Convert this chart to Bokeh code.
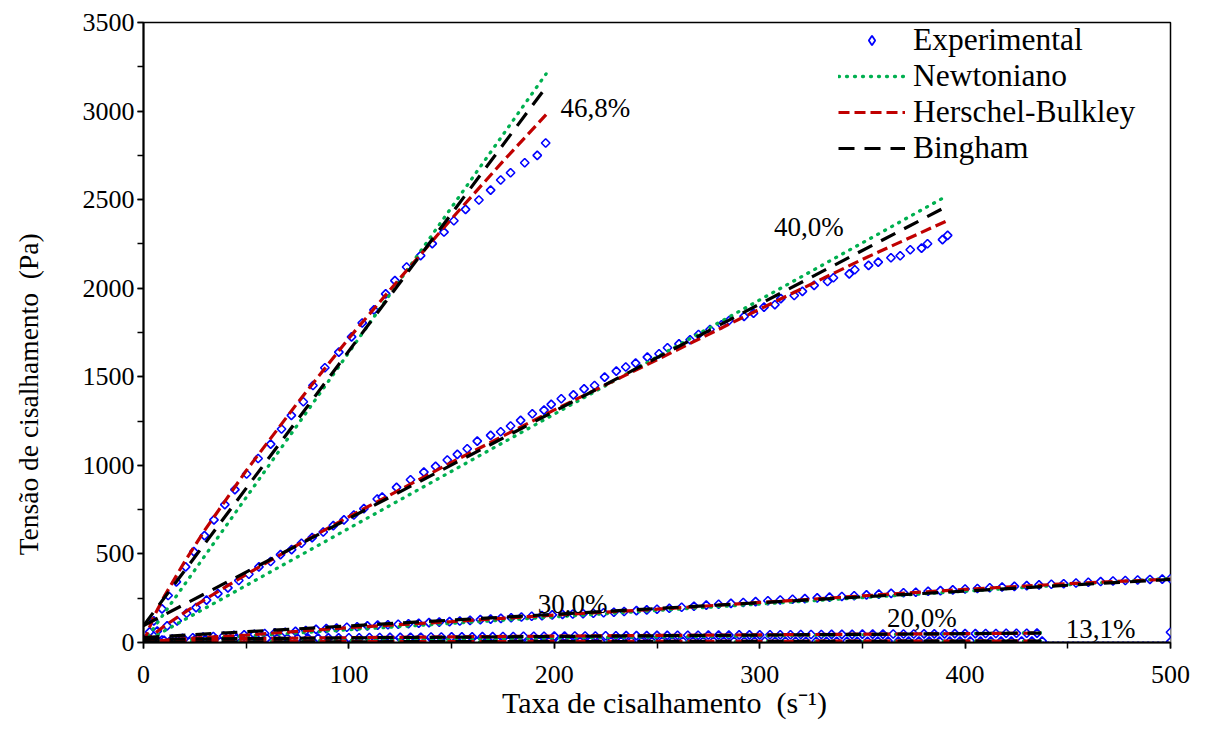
import math
from bokeh.plotting import figure
from bokeh.models import Range1d, Label, Legend, LegendItem, SingleIntervalTicker
from bokeh.embed import file_html
from bokeh.resources import INLINE

FONT = "Liberation Serif"

# ---------------- data ----------------
# 46,8 %
x46 = [0, 1, 3, 5, 9, 12, 16, 20.5, 24.5, 29.7, 34.3, 39.6, 44.5, 50.2, 55.8, 61.9, 67.2, 72, 77.8, 82.5,
       88.3, 95.1, 101.3, 106.5, 112.2, 117.9, 122.4, 128.1, 134.9, 140.6, 146.3, 151.1, 156.8, 163.3, 169,
       173.9, 178.7, 185.6, 191.7, 195.8]
y46 = [0, 20, 60, 122, 190, 265, 342, 427, 513, 603, 692, 778, 863, 951, 1039, 1120, 1205, 1282, 1359, 1451,
       1551, 1639, 1725, 1804, 1878, 1968, 2043, 2120, 2184, 2252, 2317, 2381, 2445, 2498, 2554,
       2611, 2652, 2708, 2750, 2820]
newt46_x = [0, 196]
newt46_y = [0, 3210]
bing46_x = [0, 196]
bing46_y = [95, 3135]
hb46_x = [0, 5, 10, 20, 30, 50, 75, 100, 125, 150, 175, 196]
hb46_y = [0, 146, 258, 456, 637, 970, 1353, 1718, 2058, 2392, 2716, 2980]

# 40,0 %
x40 = [0, 2, 6.7, 11.5, 16.4, 21, 25.6, 30.7, 36.2, 41.1, 46.4, 51.3, 56.2, 61.9, 66.7, 72.1, 76.9, 82.1,
       87.5, 92.4, 97.6, 102.4, 107.3, 113.8, 116.2, 123.2, 130, 136.5, 142.2, 147.9, 152.8, 157.6, 162.5,
       169, 173.9, 178.7, 183.6, 189.3, 195, 198.5, 203.4, 209.3, 214.5, 219.6, 224.5, 230.2, 234.8, 239.6,
       245.3, 251, 255.1, 260.7, 266.1, 270.2, 275.8, 281.4, 285.1, 292.4, 297, 302.1, 307.4, 310.3, 316.8,
       320.8, 326.5, 333, 335.9, 343.6, 346.3, 353, 357.7, 363.9, 368.4, 373.3, 378.8, 381.7, 389, 391.5]
y40 = [0, 30, 64, 94, 122, 165, 197, 239, 276, 308, 350, 385, 427, 457, 496, 524, 560, 592,
       624, 660, 692, 720, 756, 810, 821, 876, 919, 962, 994, 1030, 1062, 1094, 1137,
       1169, 1190, 1222, 1254, 1291, 1312, 1344, 1376, 1398, 1432, 1451, 1498, 1532, 1555, 1577,
       1611, 1630, 1664, 1686, 1709, 1739, 1767, 1794, 1818, 1841, 1859, 1893, 1907, 1941, 1959,
       1982, 2016, 2038, 2059, 2081, 2104, 2129, 2147, 2172, 2183, 2217, 2226, 2251, 2274, 2298]
newt40_x = [0, 390]
newt40_y = [0, 2514]
bing40_x = [0, 392]
bing40_y = [95, 2467]
hb40_x = [0, 10, 25, 50, 75, 100, 150, 200, 250, 300, 350, 392]
hb40_y = [0, 92, 208, 384, 551, 710, 1017, 1313, 1596, 1882, 2163, 2385]

# 30,0 %
x30 = [0, 2, 5, 9, 14, 19, 24, 29, 34, 39, 44, 49, 54, 59, 64, 69, 74, 79, 84, 89,
       94, 99, 104, 109, 114, 119, 124, 129, 134, 139, 144, 149, 154, 159, 164, 169, 174, 179, 184, 189,
       194, 199, 204, 209, 214, 219, 224, 229, 234, 240, 245, 250, 256, 262, 268, 274, 280, 286, 292, 298,
       304, 310, 316, 322, 328, 334, 340, 346, 352, 358, 364, 370, 376, 382, 388, 394, 400, 406, 412, 418,
       424, 430, 436, 442, 448, 454, 460, 466, 472, 478, 484, 490, 496, 500]
y30 = [0, 5, 10, 14, 19, 23, 27, 31, 34, 37, 40, 43, 46, 51, 55, 58, 63, 68, 74, 78,
       82, 86, 89, 94, 98, 100, 103, 106, 109, 112, 115, 118, 121, 125, 129, 132, 136, 140, 144, 148,
       152, 156, 159, 161, 163, 165, 168, 171, 175, 180, 184, 188, 193, 199, 205, 211, 216, 221, 226, 231,
       236, 240, 244, 248, 252, 256, 260, 264, 269, 273, 277, 281, 284, 289, 293, 297, 302, 305, 309, 313,
       317, 321, 325, 329, 332, 336, 340, 344, 347, 350, 353, 356, 358, 360]
newt30_x = [0, 500]
newt30_y = [0, 362]
bing30_x = [0, 500]
bing30_y = [28, 356]
hb30_x = [0, 10, 25, 50, 100, 150, 200, 250, 300, 350, 400, 450, 500]
hb30_y = [0, 12, 25, 42, 84, 118, 155, 188, 226, 263, 300, 332, 358]

# 20,0 %
x20 = [0, 5, 10, 15, 20, 25, 30, 35, 40, 45, 50, 55, 60, 65, 70, 75, 80, 85, 90, 95,
       100, 105, 110, 115, 120, 125, 130, 135, 140, 145, 150, 155, 160, 165, 170, 175, 180, 185, 190, 195,
       200, 205, 210, 215, 220, 225, 230, 235, 240, 245, 250, 255, 260, 265, 270, 275, 280, 285, 290, 295,
       300, 305, 310, 315, 320, 325, 330, 335, 340, 345, 350, 355, 360, 365, 370, 375, 380, 385, 390, 395,
       400, 405, 410, 415, 420, 425, 430, 435]
y20 = [0, 8, 12, 14, 16, 17, 18, 19, 20, 21, 22, 22, 23, 23, 24, 24, 25, 25, 26, 26,
       27, 27, 28, 28, 29, 29, 30, 30, 31, 31, 32, 32, 32, 33, 33, 34, 34, 35, 35, 35,
       36, 36, 37, 37, 37, 38, 38, 39, 39, 39, 40, 40, 41, 41, 41, 42, 42, 42, 43, 43,
       43, 44, 44, 44, 45, 45, 45, 46, 46, 46, 47, 47, 47, 48, 48, 48, 49, 49, 49, 50,
       50, 50, 51, 51, 52, 52, 52, 53]
newt20_x = [0, 437]
newt20_y = [0, 55]
bing20_x = [0, 437]
bing20_y = [18, 53]
hb20_x = [0, 10, 25, 50, 100, 150, 200, 250, 300, 350, 400, 437]
hb20_y = [0, 11, 17, 22, 27, 32, 36, 40, 43, 47, 50, 53]

# 13,1 %
x13 = [0, 2.5, 7.5, 12.5, 17.5, 22.5, 27.5, 32.5, 37.5, 42.5, 47.5, 52.5, 57.5, 62.5, 67.5, 72.5, 77.5,
       82.5, 87.5, 92.5, 97.5, 102.5, 107.5, 112.5, 117.5, 122.5, 127.5, 132.5, 137.5, 142.5, 147.5, 152.5,
       157.5, 162.5, 167.5, 172.5, 177.5, 182.5, 187.5, 192.5, 197.5, 202.5, 207.5, 212.5, 217.5, 222.5,
       227.5, 232.5, 237.5, 242.5, 247.5, 252.5, 257.5, 262.5, 267.5, 272.5, 277.5, 282.5, 287.5, 292.5,
       297.5, 302.5, 307.5, 312.5, 317.5, 322.5, 327.5, 332.5, 337.5, 342.5, 347.5, 352.5, 357.5, 362.5,
       367.5, 372.5, 377.5, 382.5, 387.5, 392.5, 397.5, 402.5, 407.5, 412.5, 417.5, 422.5, 427.5, 432.5,
       437.5]
y13 = [0,
       2, 3, 3, 3, 4, 4, 4, 4, 4, 4,
       5, 5, 5, 5, 5, 5, 5, 5, 5, 5,
       5, 5, 5, 5, 5, 5, 5, 5, 5, 5,
       6, 6, 6, 6, 6, 6, 6, 6, 6, 6,
       6, 6, 6, 6, 6, 6, 6, 6, 6, 6,
       7, 7, 7, 7, 7, 7, 7, 7, 7, 7,
       7, 7, 7, 7, 7, 7, 7, 7, 7, 7,
       7, 8, 8, 8, 8, 8, 8, 8, 8, 8,
       8, 8, 8, 8, 8, 8, 8, 8]
newt13_x = [0, 437]
newt13_y = [0, 8]
bing13_x = [0, 437]
bing13_y = [3, 8]
hb13_x = [0, 10, 50, 100, 200, 300, 437]
hb13_y = [0, 3, 4, 5, 6, 7, 8]
tail13_x = [437.5, 500]
tail13_y = [2, 2]
end_x = [500, 500]
end_y = [4, 58]

# texts
series_labels = ["46,8%", "40,0%", "30,0%", "20,0%", "13,1%"]
legend_names = ["Experimental", "Newtoniano", "Herschel-Bulkley", "Bingham"]
NB = "\u00a0"
x_title = NB * 2 + "Taxa de cisalhamento" + NB * 2 + "(s\u207b\u00b9)"
y_title = "Tensão de cisalhamento" + NB * 2 + "(Pa)" + NB * 18

# ---------------- styling ----------------
BLUE = "#0000FF"
GREEN = "#00B050"
RED = "#C00000"
BLACK = "#000000"

p = figure(frame_width=1027, frame_height=620,
           x_range=Range1d(0, 500), y_range=Range1d(0, 3500),
           output_backend="svg", toolbar_location=None,
           min_border_left=143, min_border_right=30, min_border_top=22, min_border_bottom=85,
           background_fill_color="white", border_fill_color="white")
p.xgrid.visible = False
p.ygrid.visible = False
p.outline_line_color = "black"
p.outline_line_width = 1.5

p.xaxis.ticker = SingleIntervalTicker(interval=100, num_minor_ticks=2)
p.yaxis.ticker = SingleIntervalTicker(interval=500, num_minor_ticks=2)
for ax in (p.xaxis, p.yaxis):
    ax.axis_line_width = 2
    ax.axis_line_color = "black"
    ax.major_tick_line_color = "black"
    ax.minor_tick_line_color = "black"
    ax.major_tick_line_width = 1.5
    ax.minor_tick_line_width = 1.5
    ax.major_tick_in = 0
    ax.minor_tick_in = 0
    ax.major_tick_out = 6
    ax.minor_tick_out = 6
    ax.major_label_text_font = FONT
    ax.major_label_text_font_size = "26px"
    ax.major_label_text_color = "black"
    ax.axis_label_text_font = FONT
    ax.axis_label_text_font_style = "normal"
    ax.axis_label_text_color = "black"

p.xaxis.axis_label = x_title
p.xaxis.axis_label_text_font_size = "30px"
p.xaxis.major_label_standoff = 17
p.xaxis.axis_label_standoff = 0

p.yaxis.axis_label = y_title
p.yaxis.axis_label_text_font_size = "27.5px"
p.yaxis.major_label_standoff = 3
p.yaxis.axis_label_standoff = 36

MK = dict(marker="square", angle=math.pi / 4, size=6, line_color=BLUE, line_width=1.6, fill_color="white")

exp_r = []
for xs, ys in [(x46, y46), (x40, y40), (x30, y30), (x20, y20), (x13, y13)]:
    exp_r.append(p.scatter(xs, ys, **MK))
exp_r.append(p.scatter(end_x, end_y, **MK))
p.line(tail13_x, tail13_y, line_color=BLUE, line_width=1.5, line_dash="2 3")

# legend glyph for the experimental marker (first measured point, drawn as a diamond)
leg_exp = p.scatter(x46[:1], y46[:1], marker="diamond", size=6, line_color=BLUE, line_width=1.8,
                    fill_color="white")

newt_r, hb_r, bing_r = [], [], []
models = [
    (newt46_x, newt46_y, hb46_x, hb46_y, bing46_x, bing46_y),
    (newt40_x, newt40_y, hb40_x, hb40_y, bing40_x, bing40_y),
    (newt30_x, newt30_y, hb30_x, hb30_y, bing30_x, bing30_y),
    (newt20_x, newt20_y, hb20_x, hb20_y, bing20_x, bing20_y),
    (newt13_x, newt13_y, hb13_x, hb13_y, bing13_x, bing13_y),
]
for nx, ny, hx, hy, bx, by in models:
    newt_r.append(p.line(nx, ny, line_color=GREEN, line_width=3.3, line_dash="1 7", line_cap="round"))
    hb_r.append(p.line(hx, hy, line_color=RED, line_width=3.2, line_dash="11 5"))
    bing_r.append(p.line(bx, by, line_color=BLACK, line_width=3.2, line_dash="16 10"))

legend = Legend(items=[
    LegendItem(label=legend_names[0], renderers=[leg_exp]),
    LegendItem(label=legend_names[1], renderers=[newt_r[0]]),
    LegendItem(label=legend_names[2], renderers=[hb_r[0]]),
    LegendItem(label=legend_names[3], renderers=[bing_r[0]]),
], location=(695, 476))
legend.glyph_width = 67
legend.glyph_height = 24
legend.label_height = 34
legend.label_standoff = 8
legend.spacing = 0
legend.padding = 0
legend.margin = 0
legend.border_line_color = None
legend.background_fill_alpha = 0
legend.label_text_font = FONT
legend.label_text_font_size = "31.5px"
legend.label_text_color = "black"
legend.label_text_baseline = "middle"
p.add_layout(legend)

label_pos = [(203, 3015), (307, 2343), (192, 220), (362, 141), (449, 79)]
for txt, (lx, ly) in zip(series_labels, label_pos):
    p.add_layout(Label(x=lx, y=ly, text=txt, text_font=FONT, text_font_size="27px",
                       text_baseline="middle", text_align="left", text_color="black"))

open("out.html", "w").write(file_html(p, INLINE))
